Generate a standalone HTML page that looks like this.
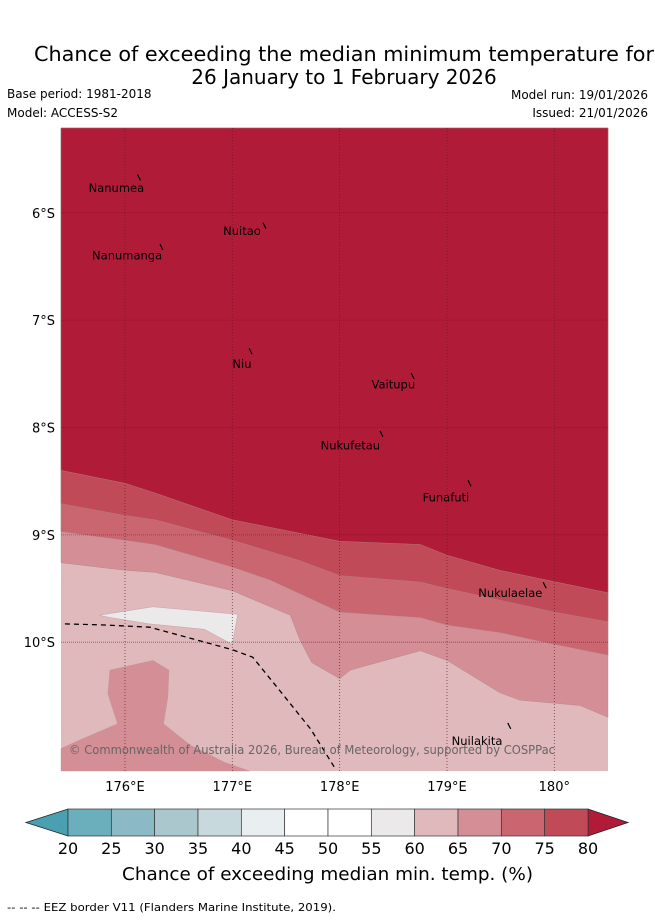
<!DOCTYPE html>
<html><head><meta charset="utf-8"><style>
body{margin:0;background:#fff;}
svg text{font-family:"DejaVu Sans","Liberation Sans",sans-serif;}
</style></head><body>
<svg width="655" height="919" viewBox="0 0 655 919" xmlns="http://www.w3.org/2000/svg">
<text x="34" y="61" font-size="20" textLength="620" lengthAdjust="spacingAndGlyphs">Chance of exceeding the median minimum temperature for</text>
<text x="344" y="84" font-size="20" text-anchor="middle">26 January to 1 February 2026</text>
<text x="7" y="98" font-size="12">Base period: 1981-2018</text>
<text x="7" y="117" font-size="12">Model: ACCESS-S2</text>
<text x="648" y="99" font-size="12" text-anchor="end">Model run: 19/01/2026</text>
<text x="648" y="117" font-size="12" text-anchor="end">Issued: 21/01/2026</text>
<g id="map"></g>
<g id="cbar"></g>
<text x="122" y="880" font-size="18" textLength="411" lengthAdjust="spacingAndGlyphs">Chance of exceeding median min. temp. (%)</text>
<text x="7" y="911" font-size="11" textLength="329" lengthAdjust="spacingAndGlyphs">--  --  -- EEZ border V11 (Flanders Marine Institute, 2019).</text>
</svg>
<script>
// data
const b65Lon=[175.404,176,176.28,177,177.54,177.63,177.74,178,178.1,178.75,179,179.49,179.68,180.24,180.5];
const b65Lat=[9.26,9.33,9.35,9.52,9.75,9.98,10.19,10.34,10.26,10.08,10.17,10.47,10.54,10.59,10.70];
const b70Lon=[175.404,176,176.28,177,177.35,178,178.75,179,179.49,180,180.5];
const b70Lat=[8.97,9.05,9.09,9.30,9.42,9.72,9.77,9.84,9.91,10.02,10.12];
const b75Lon=[175.404,176,176.28,177,177.63,178,178.75,179,180,180.5];
const b75Lat=[8.71,8.82,8.86,9.05,9.24,9.38,9.44,9.50,9.72,9.81];
const b80Lon=[175.404,176,176.28,177,178,178.75,179,179.49,180.5];
const b80Lat=[8.40,8.52,8.61,8.86,9.06,9.09,9.19,9.33,9.54];
const blob55Lon=[175.76,176.26,177.05,177.0,176.74,176.23,175.86];
const blob55Lat=[9.75,9.67,9.74,10.02,9.88,9.83,9.77];
const blob65Lon=[175.404,175.58,175.93,175.84,175.86,176.26,176.41,176.40,176.36,176.61,176.93,177.16,175.404];
const blob65Lat=[10.99,10.91,10.76,10.48,10.26,10.17,10.26,10.51,10.76,10.96,11.12,11.2,11.2];
const eezLon=[175.44,175.81,176.23,176.56,177,177.19,177.45,177.73,177.96];
const eezLat=[9.83,9.84,9.86,9.95,10.07,10.14,10.46,10.81,11.18];
const islandNames=["Nanumea","Nuitao","Nanumanga","Niu","Vaitupu","Nukufetau","Funafuti","Nukulaelae","Nuilakita"];
const islandLon=[175.92,177.09,176.02,177.09,178.5,178.1,178.99,179.59,179.28];
const islandLat=[5.77,6.17,6.40,7.41,7.60,8.17,8.65,9.54,10.92];
const markLon=[176.13,177.3,176.34,177.17,178.68,178.39,179.21,179.91,179.58];
const markLat=[5.67,6.12,6.32,7.29,7.52,8.06,8.52,9.47,10.78];
const lonTicks=[176,177,178,179,180];
const latTicks=[6,7,8,9,10];
const cbBounds=[20,25,30,35,40,45,50,55,60,65,70,75,80];
const cbColors=["#6aafbb","#8bb9c4","#a9c7cc","#c8d9dd","#e9eff1","#ffffff","#ffffff","#ebe9ea","#e0b9bd","#d48e96","#c96670","#c04a58"];

const NS="http://www.w3.org/2000/svg";
const X0=61,X1=608,Y0=128,Y1=771;
const LON0=175.404,LON1=180.5,LAT0=5.21,LAT1=11.2;
const xs=l=>X0+(l-LON0)/(LON1-LON0)*(X1-X0);
const ys=l=>Y0+(l-LAT0)/(LAT1-LAT0)*(Y1-Y0);
const map=document.getElementById('map');
function mk(t,a,p){const e=document.createElementNS(NS,t);for(const k in a)e.setAttribute(k,a[k]);(p||map).appendChild(e);return e;}
let r=mk('rect',{x:X0,y:Y0,width:X1-X0,height:Y1-Y0,fill:'#e0b9bd'});


function above(lons,lats,fill,name){
  let d='M'+xs(LON0)+','+Y0;
  lons.forEach((l,i)=>d+=' L'+xs(l).toFixed(1)+','+ys(lats[i]).toFixed(1));
  d+=' L'+X1+','+Y0+'Z';
  const p=mk('path',{d:d,fill:fill,stroke:'#a88',"stroke-width":0.4});
  
  
}
function poly(lons,lats,fill,name){
  const pts=lons.map((l,i)=>xs(l).toFixed(1)+','+ys(lats[i]).toFixed(1)).join(' ');
  const p=mk('polygon',{points:pts,fill:fill,stroke:'#b99',"stroke-width":0.4});
  
  
}
above(b65Lon,b65Lat,'#d48e96','band-65-70');
above(b70Lon,b70Lat,'#c96670','band-70-75');
above(b75Lon,b75Lat,'#c04a58','band-75-80');
above(b80Lon,b80Lat,'#b01c38','band-above-80');
poly(blob55Lon,blob55Lat,'#ebe9ea','patch-55-60');
poly(blob65Lon,blob65Lat,'#d48e96','patch-65-70');
// grid
lonTicks.forEach(l=>{
  const g=mk('line',{x1:xs(l),x2:xs(l),y1:Y0,y2:Y1,stroke:'#5a1a22',"stroke-width":0.8,"stroke-dasharray":"1,2",opacity:0.8});
  
  
  const t=mk('text',{x:xs(l),y:Y1+20,"font-size":13,"text-anchor":"middle"});
  t.textContent=(l===180?'180°':l+'°E');
  
  
});
latTicks.forEach(l=>{
  const g=mk('line',{x1:X0,x2:X1,y1:ys(l),y2:ys(l),stroke:'#5a1a22',"stroke-width":0.8,"stroke-dasharray":"1,1",opacity:0.6});
  
  
  const t=mk('text',{x:X0-6,y:ys(l)+5,"font-size":13,"text-anchor":"end"});
  t.textContent=l+'°S';
  
  
});
// eez
const ep=mk('polyline',{points:eezLon.map((l,i)=>xs(l).toFixed(1)+','+ys(eezLat[i]).toFixed(1)).join(' '),fill:'none',stroke:'#000',"stroke-width":1.3,"stroke-dasharray":"5,4"});


// islands
markLon.forEach((l,i)=>{
  const m=mk('line',{x1:xs(l)-1.5,y1:ys(markLat[i])-3,x2:xs(l)+1.5,y2:ys(markLat[i])+3,stroke:'#000',"stroke-width":1.2});
  
  
});
islandNames.forEach((n,i)=>{
  const t=mk('text',{x:xs(islandLon[i]),y:ys(islandLat[i])+4,"font-size":11.5,"text-anchor":"middle"});
  t.textContent=n;
  
  
});
const c=mk('text',{x:69,y:754,"font-size":12,fill:'#666',textLength:486,lengthAdjust:"spacingAndGlyphs"});
c.textContent='© Commonwealth of Australia 2026, Bureau of Meteorology, supported by COSPPac';


// colorbar
const cb=document.getElementById('cbar');
const CX0=68,CX1=588,CY0=809,CY1=836;
const cx=v=>CX0+(v-20)/60*(CX1-CX0);
const lt=mk('polygon',{points:`26,${(CY0+CY1)/2} ${CX0},${CY0} ${CX0},${CY1}`,fill:'#4aa0b0',stroke:'#222',"stroke-width":0.8},cb);


const rt=mk('polygon',{points:`628,${(CY0+CY1)/2} ${CX1},${CY0} ${CX1},${CY1}`,fill:'#b01c38',stroke:'#222',"stroke-width":0.8},cb);


cbColors.forEach((col,i)=>{
  const s=mk('rect',{x:cx(cbBounds[i]),y:CY0,width:cx(cbBounds[i+1])-cx(cbBounds[i]),height:CY1-CY0,fill:col,stroke:'#333',"stroke-width":0.7},cb);
  
  
});
cbBounds.forEach(v=>{
  const t=mk('text',{x:cx(v),y:854,"font-size":16,"text-anchor":"middle"},cb);
  t.textContent=v;
  
  
});
</script>
</body></html>
